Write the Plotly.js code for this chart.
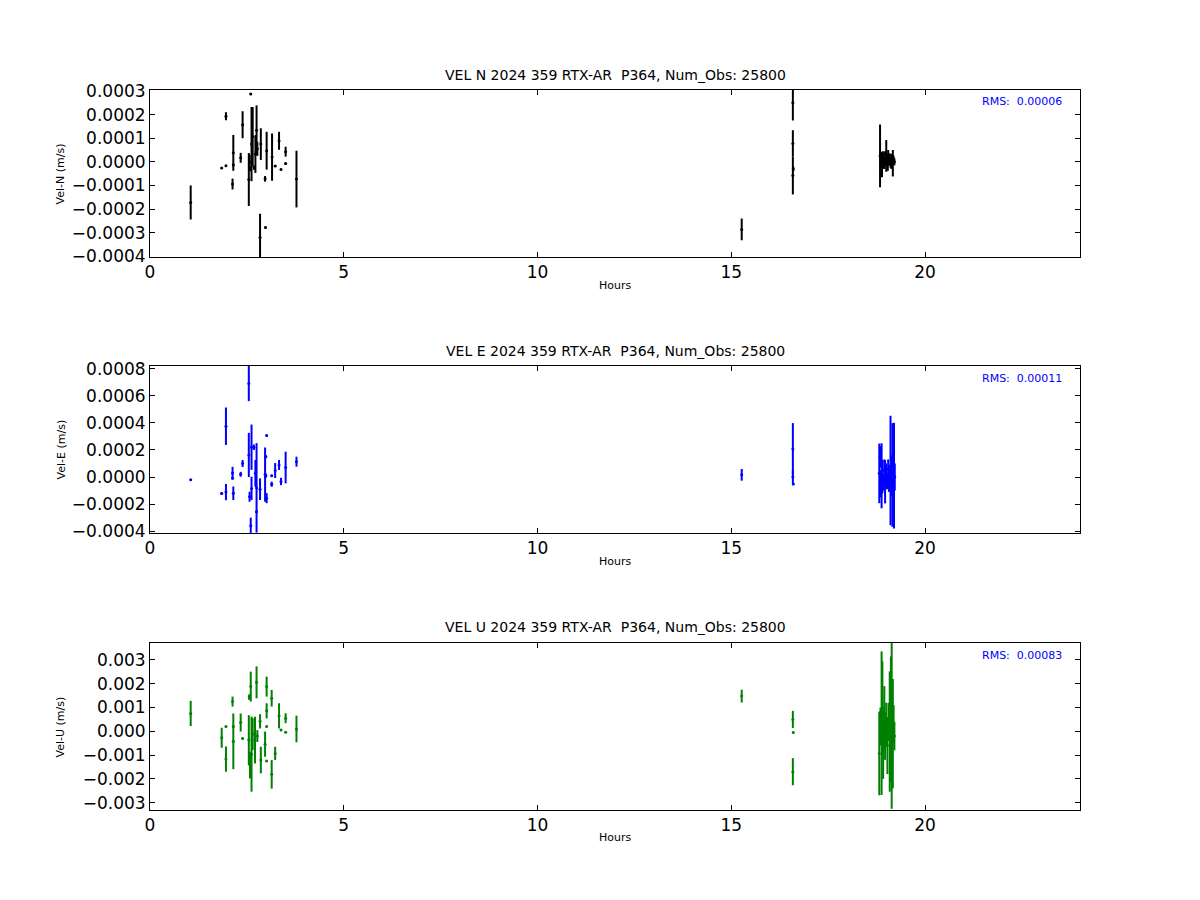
<!DOCTYPE html>
<html>
<head>
<meta charset="utf-8">
<script src="https://cdn.plot.ly/plotly-3.0.1.min.js"></script>
<style>html,body{margin:0;padding:0;background:#fff;}#chart{width:1200px;height:900px;}</style>
</head>
<body>
<div id="chart"></div>
<script>
// ---- Data (hours, velocity m/s, 1-sigma error m/s) ----
const hoursN = [1.05,1.85,1.96,1.96,2.13,2.15,2.15,2.34,2.39,2.55,2.57,2.58,2.60,2.62,2.65,2.69,2.72,2.75,2.77,2.84,2.86,2.97,2.98,3.01,3.15,3.23,3.33,3.38,3.50,3.50,3.78,
  15.27,16.59,16.59,16.59,16.60,
  18.84,18.86,18.88,18.89,18.91,18.93,18.95,18.97,19.00,19.02,19.04,19.05,19.07,19.09,19.11,19.13,19.15,19.17,19.19,19.21];
const velN = [-0.000172,-0.000026,-0.000017,0.000193,-0.000094,0.000038,-0.000013,0.000017,0.000157,-0.000075,0.000000,-0.000030,0.000287,0.000075,0.000106,-0.000025,0.000033,0.000134,0.000055,-0.000320,0.000075,-0.000072,-0.000278,0.000047,0.000020,-0.000018,0.000089,-0.000032,0.000043,-0.000007,-0.000073,
  -0.000286,0.000250,0.000078,-0.000058,-0.000030,
  0.000025,0.000000,0.000010,-0.000015,0.000020,0.000005,-0.000010,0.000015,0.000025,0.000000,-0.000008,0.000030,0.000010,0.000010,-0.000005,0.000002,0.000012,-0.000006,0.000008,0.000000];
const errN = [0.000072,0.000004,0.000004,0.000017,0.000023,0.000076,0.000005,0.000021,0.000057,0.000112,0.000030,0.000010,0.000004,0.000157,0.000126,0.000010,0.000080,0.000105,0.000030,0.000100,0.000067,0.000012,0.000004,0.000080,0.000100,0.000004,0.000038,0.000004,0.000021,0.000004,0.000120,
  0.000046,0.000075,0.000056,0.000080,0.000010,
  0.000133,0.000040,0.000030,0.000050,0.000025,0.000035,0.000020,0.000030,0.000067,0.000025,0.000030,0.000020,0.000025,0.000025,0.000020,0.000032,0.000020,0.000056,0.000018,0.000015];

const hoursE = [1.05,1.85,1.96,1.96,2.13,2.13,2.15,2.34,2.39,2.55,2.55,2.57,2.60,2.62,2.62,2.68,2.72,2.75,2.75,2.84,2.97,2.99,2.99,3.01,3.01,3.14,3.14,3.23,3.33,3.38,3.50,3.78,
  15.27,16.59,16.59,16.60,
  18.82,18.84,18.86,18.88,18.90,18.93,18.95,18.97,19.00,19.02,19.05,19.07,19.11,19.13,19.16,19.20,19.22];
const velE = [-0.000020,-0.000121,0.000375,-0.000111,-0.000010,0.000030,-0.000120,0.000020,0.000100,0.000690,0.000163,-0.000146,-0.000360,0.000220,-0.000084,0.000220,0.000027,-0.000080,-0.000257,-0.000090,0.000018,0.000150,0.000010,0.000306,-0.000156,0.000010,-0.000053,0.000048,0.000089,-0.000033,0.000070,0.000113,
  0.000016,0.000206,0.000000,-0.000052,
  0.000027,0.000150,-0.000050,0.000009,0.000003,-0.000040,0.000050,-0.000035,0.000020,-0.000030,0.000060,-0.000010,0.000048,0.000010,0.000015,0.000010,0.000000];
const errE = [0.000004,0.000010,0.000138,0.000060,0.000008,0.000045,0.000050,0.000018,0.000026,0.000130,0.000163,0.000037,0.000060,0.000167,0.000086,0.000020,0.000099,0.000330,0.000010,0.000080,0.000200,0.000010,0.000015,0.000006,0.000037,0.000006,0.000019,0.000055,0.000037,0.000027,0.000117,0.000037,
  0.000043,0.000192,0.000050,0.000008,
  0.000220,0.000080,0.000100,0.000240,0.000123,0.000060,0.000080,0.000160,0.000080,0.000060,0.000070,0.000100,0.000404,0.000150,0.000383,0.000390,0.000100];

const hoursU = [1.05,1.85,1.96,1.96,2.13,2.15,2.15,2.34,2.39,2.55,2.56,2.58,2.60,2.62,2.65,2.71,2.75,2.77,2.84,2.86,2.97,3.01,3.01,3.01,3.01,3.14,3.14,3.23,3.33,3.38,3.50,3.50,3.78,
  15.27,16.59,16.60,16.59,
  18.82,18.85,18.88,18.90,18.92,18.95,18.97,19.00,19.03,19.06,19.09,19.12,19.14,19.17,19.19,19.21];
const velU = [0.00075,-0.00027,-0.00117,0.00020,0.00125,-0.00042,0.00020,0.00037,-0.00030,-0.00037,0.00144,-0.00142,0.00188,-0.00096,-0.00012,-0.00037,0.00206,-0.00020,0.00042,-0.00121,-0.00054,0.00188,0.00086,0.00020,-0.00125,0.00139,-0.00181,-0.00093,0.00065,0.00005,0.00055,-0.00004,0.00010,
  0.00148,0.00050,-0.00005,-0.00170,
  -0.00093,0.00020,0.00034,0.00097,-0.00050,0.00060,-0.00020,0.00030,-0.00060,0.00040,-0.00001,0.00051,0.00034,-0.00010,0.00030,-0.00020];
const errU = [0.00053,0.00042,0.00053,0.00003,0.00021,0.00117,0.00003,0.00038,0.00003,0.00105,0.00012,0.00056,0.00063,0.00158,0.00067,0.00098,0.00067,0.00025,0.00030,0.00056,0.00053,0.00042,0.00032,0.00003,0.00003,0.00035,0.00060,0.00028,0.00053,0.00003,0.00021,0.00003,0.00056,
  0.00027,0.00036,0.00003,0.00057,
  0.00176,0.00080,0.00302,0.00197,0.00150,0.00130,0.00100,0.00090,0.00120,0.00080,0.00253,0.00264,0.00360,0.00230,0.00080,0.00060];

const panelTitles = ["VEL N 2024 359 RTX-AR  P364, Num_Obs: 25800",
                     "VEL E 2024 359 RTX-AR  P364, Num_Obs: 25800",
                     "VEL U 2024 359 RTX-AR  P364, Num_Obs: 25800"];
const yTitles = ["Vel-N (m/s)", "Vel-E (m/s)", "Vel-U (m/s)"];
const rmsLabels = ["RMS:  0.00006", "RMS:  0.00011", "RMS:  0.00083"];
const xTitle = "Hours";

// ---- Traces ----
function trace(x, y, e, color, ax) {
  return {
    type: 'scatter', mode: 'markers', x: x, y: y,
    xaxis: 'x' + ax, yaxis: 'y' + ax,
    marker: {color: color, size: 3},
    error_y: {type: 'data', array: e, visible: true, color: color, thickness: 2, width: 0},
    showlegend: false, hoverinfo: 'skip'
  };
}
const data = [
  trace(hoursN, velN, errN, '#000000', ''),
  trace(hoursE, velE, errE, '#0000ff', '2'),
  trace(hoursU, velU, errU, '#008000', '3')
];

const FONT = 'DejaVu Sans, Liberation Sans, sans-serif';
function xax(anchor) {
  return {domain: [0.125, 0.9], range: [0, 24], dtick: 5, tick0: 0, anchor: anchor,
    showline: true, linecolor: '#000', linewidth: 1, mirror: 'ticks', ticks: 'inside', ticklen: 5,
    tickcolor: '#000', showgrid: false, zeroline: false, tickfont: {family: FONT, size: 17, color: '#000'}};
}
function yax(anchor, dom, rng, dt, fmt) {
  return {domain: dom, range: rng, dtick: dt, tick0: 0, anchor: anchor, tickformat: fmt,
    showline: true, linecolor: '#000', linewidth: 1, mirror: 'ticks', ticks: 'inside', ticklen: 5,
    tickcolor: '#000', showgrid: false, zeroline: false, tickfont: {family: FONT, size: 17, color: '#000'}};
}

const ann = [];
const titleY = [0.9167, 0.61, 0.3033];
const hoursY = [0.6833, 0.3756, 0.0689];
const yTitleY = [0.8072, 0.5006, 0.1928];
const rmsY = [0.8867, 0.5789, 0.2722];
for (let i = 0; i < 3; i++) {
  ann.push({xref: 'paper', yref: 'paper', x: 0.5125, y: titleY[i], text: panelTitles[i], showarrow: false,
    xanchor: 'center', yanchor: 'middle', font: {family: FONT, size: 14, color: '#000'}});
  ann.push({xref: 'paper', yref: 'paper', x: 0.5125, y: hoursY[i], text: xTitle, showarrow: false,
    xanchor: 'center', yanchor: 'middle', font: {family: FONT, size: 11, color: '#000'}});
  ann.push({xref: 'paper', yref: 'paper', x: 0.0508, y: yTitleY[i], text: yTitles[i], showarrow: false, textangle: -90,
    xanchor: 'center', yanchor: 'middle', font: {family: FONT, size: 11, color: '#000'}});
  ann.push({xref: 'paper', yref: 'paper', x: 0.8867, y: rmsY[i], text: rmsLabels[i], showarrow: false,
    xanchor: 'right', yanchor: 'middle', font: {family: FONT, size: 11, color: '#0000ff'}});
}

const layout = {
  width: 1200, height: 900, margin: {l: 0, r: 0, t: 0, b: 0},
  paper_bgcolor: '#fff', plot_bgcolor: '#fff', showlegend: false,
  xaxis: xax('y'), yaxis: yax('x', [0.7144, 0.9], [-0.000403, 0.000304], 0.0001, '.4f'),
  xaxis2: xax('y2'), yaxis2: yax('x2', [0.4078, 0.5933], [-0.000413, 0.000819], 0.0002, '.4f'),
  xaxis3: xax('y3'), yaxis3: yax('x3', [0.1, 0.2856], [-0.00331, 0.003716], 0.001, '.3f'),
  annotations: ann
};
Plotly.newPlot('chart', data, layout, {displayModeBar: false, staticPlot: true});
</script>
</body>
</html>
